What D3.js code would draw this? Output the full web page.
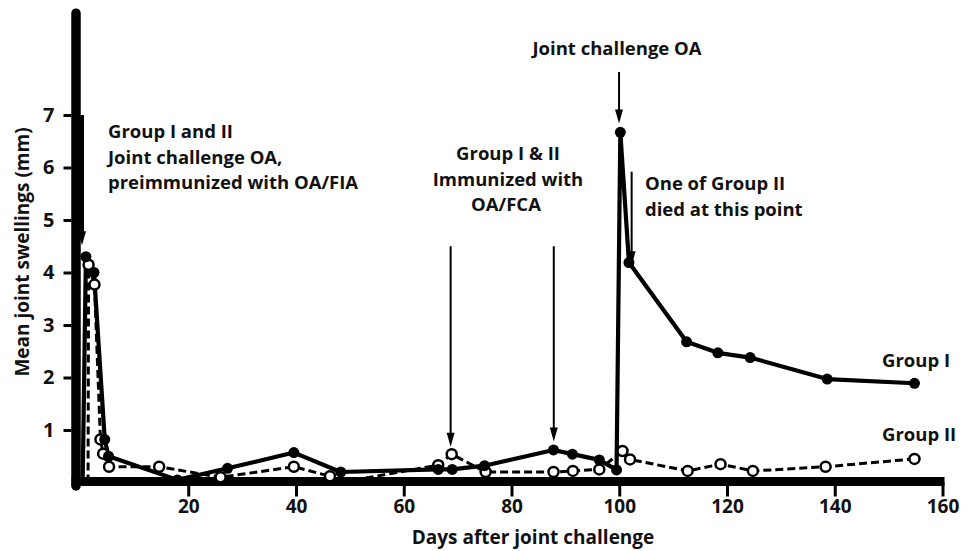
<!DOCTYPE html>
<html>
<head>
<meta charset="utf-8">
<script src="https://cdn.jsdelivr.net/npm/d3@7"></script>
<style>
  html, body { margin: 0; padding: 0; background: #fff; }
  svg text { font-family: "Open Sans", Lato, sans-serif; font-weight: 700; fill: #111; }
</style>
</head>
<body>
<svg id="chart" width="973" height="551"></svg>
<script>
// ---- data ----
const group1Days   = [0.4, 1, 2.5, 4.5, 5.2, 18, 27.3, 39.6, 48.3, 66.4, 69, 75, 87.8, 91.3, 96.3, 99.5, 100.2, 101.8, 112.5, 118.3, 124.3, 138.6, 154.8];
const group1Values = [0, 4.3, 4.0, 0.82, 0.5, 0.05, 0.27, 0.57, 0.2, 0.25, 0.25, 0.32, 0.62, 0.54, 0.43, 0.24, 6.67, 4.19, 2.68, 2.47, 2.38, 1.97, 1.89];
const group2Days   = [1.4, 1.5, 2.6, 3.7, 4.2, 5.3, 14.6, 26, 39.6, 46.3, 48.3, 66.4, 68.9, 75.2, 87.8, 91.4, 96.3, 100.6, 102, 112.7, 118.8, 124.8, 138.3, 154.8];
const group2Values = [0, 4.15, 3.77, 0.82, 0.55, 0.3, 0.3, 0.1, 0.3, 0.12, 0, 0.33, 0.54, 0.2, 0.2, 0.22, 0.25, 0.6, 0.44, 0.22, 0.35, 0.22, 0.3, 0.45];
const xTicks = [20, 40, 60, 80, 100, 120, 140, 160];
const yTicks = [1, 2, 3, 4, 5, 6, 7];
const seriesNames = ["Group I", "Group II"];
// annotation arrows: [day, fromValue, toValue]
const arrowDays  = [0.28, 68.7, 87.85, 99.96, 102.3];
const arrowFrom  = [7.0, 4.5, 4.5, 7.82, 5.92];
const arrowTo    = [4.52, 0.68, 0.78, 6.84, 4.14];

const svg = d3.select("#chart");
const x = d3.scaleLinear().domain([0, 160]).range([80.5, 942.5]);
const y = d3.scaleLinear().domain([0, 7]).range([482.5, 115]);

// axes bars
svg.append("line").attr("x1", 76).attr("x2", 76).attr("y1", y(8.94)).attr("y2", 486)
  .attr("stroke", "#000").attr("stroke-width", 9.5).attr("stroke-linecap", "round");
svg.append("line").attr("x1", 71.5).attr("x2", x(160) + 2).attr("y1", y(0) - 1).attr("y2", y(0) - 1)
  .attr("stroke", "#000").attr("stroke-width", 9);

const gx = svg.append("g").attr("transform", `translate(0,${y(0) - 1})`)
  .call(d3.axisBottom(x).tickValues(xTicks).tickSize(15).tickPadding(3).tickFormat(d3.format("d")));
gx.select(".domain").remove();
gx.selectAll(".tick line").attr("stroke", "#000").attr("stroke-width", 3);
gx.selectAll(".tick text").style("font-size", "19px").attr("fill", "#111");

const gy = svg.append("g").attr("transform", `translate(71.5,0)`)
  .call(d3.axisLeft(y).tickValues(yTicks).tickSize(8).tickPadding(9).tickFormat(d3.format("d")));
gy.select(".domain").remove();
gy.selectAll(".tick line").attr("stroke", "#000").attr("stroke-width", 3);
gy.selectAll(".tick text").style("font-size", "20px").attr("fill", "#111");

// axis titles
svg.append("text").attr("x", 533).attr("y", 544).attr("text-anchor", "middle")
  .style("font-size", "19px").text("Days after joint challenge");
svg.append("text").attr("transform", "translate(29,252) rotate(-90)").attr("text-anchor", "middle")
  .style("font-size", "19px").text("Mean joint swellings (mm)");

// series
const g1 = group1Days.map((d, i) => [d, group1Values[i]]);
const g2 = group2Days.map((d, i) => [d, group2Values[i]]);
const line = d3.line().x(d => x(d[0])).y(d => y(d[1]));

svg.append("path").datum(g2).attr("d", line).attr("fill", "none")
  .attr("stroke", "#000").attr("stroke-width", 3).attr("stroke-dasharray", "8,4");
svg.append("path").datum(g1).attr("d", line).attr("fill", "none")
  .attr("stroke", "#000").attr("stroke-width", 4.2).attr("stroke-linejoin", "round");

svg.selectAll("circle.g2").data(g2.filter(d => d[1] > 0)).join("circle").attr("class", "g2")
  .attr("cx", d => x(d[0])).attr("cy", d => y(d[1])).attr("r", 5)
  .attr("fill", "#fff").attr("stroke", "#000").attr("stroke-width", 2.5);
svg.selectAll("circle.g1").data(g1.filter(d => d[1] > 0)).join("circle").attr("class", "g1")
  .attr("cx", d => x(d[0])).attr("cy", d => y(d[1])).attr("r", 5.5).attr("fill", "#000");

// arrows
arrowDays.forEach((d, i) => {
  const ax = x(d), y0 = y(arrowFrom[i]), y1 = y(arrowTo[i]);
  const w = i === 0 ? 4 : 2;
  svg.append("line").attr("x1", ax).attr("x2", ax).attr("y1", y0).attr("y2", y1 - 10)
    .attr("stroke", "#000").attr("stroke-width", w);
  svg.append("path").attr("d", `M${ax - 4},${y1 - 14} L${ax + 4},${y1 - 14} L${ax},${y1} Z`).attr("fill", "#000");
});

// annotation texts
const notes = [
  [108, 138, "start", "Group I and II"],
  [108, 163.5, "start", "Joint challenge OA,"],
  [108, 189, "start", "preimmunized with OA/FIA"],
  [508, 160, "middle", "Group I & II"],
  [508, 185.5, "middle", "Immunized with"],
  [506, 211, "middle", "OA/FCA"],
  [617, 55, "middle", "Joint challenge OA"],
  [645, 190, "start", "One of Group II"],
  [645, 215.5, "start", "died at this point"],
  [882, 367, "start", seriesNames[0]],
  [882, 441, "start", seriesNames[1]]
];
notes.forEach(n => {
  svg.append("text").attr("x", n[0]).attr("y", n[1]).attr("text-anchor", n[2])
    .style("font-size", "18.5px").text(n[3]);
});
</script>
</body>
</html>
